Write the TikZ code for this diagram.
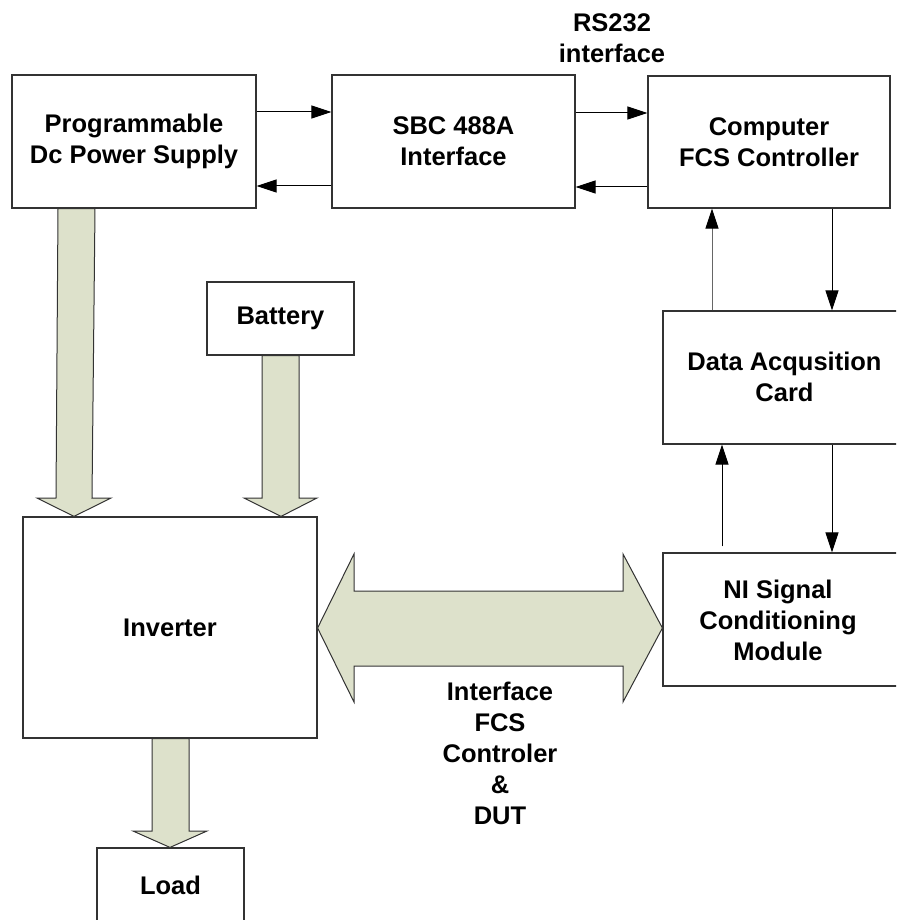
\documentclass[tikz,border=0pt]{standalone}
\usepackage{fontspec}
\setmainfont{Liberation Sans}
\usetikzlibrary{arrows.meta,calc}
\definecolor{fatfill}{HTML}{DDE1CB}
\definecolor{boxline}{HTML}{333333}
\begin{document}
\begin{tikzpicture}[x=1pt,y=-1pt,
  box/.style={draw=boxline,line width=1.2pt,fill=white,inner sep=0pt,align=center,
    font=\fontsize{25.5}{31}\selectfont\bfseries},
  lbl/.style={inner sep=0pt,align=center,font=\fontsize{25.5}{31}\selectfont\bfseries},
  sig/.style={draw=black,line width=1pt,-{Triangle[length=20pt,width=13pt,color=black]}},
  fat/.style={draw=black!80,line width=1pt,fill=fatfill,line join=miter}]
\useasboundingbox (0,0) rectangle (896,920);
\clip (0,0) rectangle (896,920);
% boxes
\node[box,minimum width=244pt,minimum height=133pt] (ps) at (134,141.5) {Programmable\\Dc Power Supply};
\node[box,minimum width=243pt,minimum height=133pt] (sbc) at (453.5,141.5) {SBC 488A\\Interface};
\node[box,minimum width=242pt,minimum height=132pt] (comp) at (769,142) {Computer\\FCS Controller};
\node[box,minimum width=147pt,minimum height=73pt] (bat) at (280.5,318.5) {Battery};
\node[box,minimum width=244pt,minimum height=133pt] (daq) at (785,377.5) {};
\node[lbl] (daqt) at (784.5,377) {Data Acqusition\\Card};
\node[box,minimum width=294pt,minimum height=221pt] (inv) at (170,627.5) {Inverter};
\node[box,minimum width=244pt,minimum height=133pt] (ni) at (785,619.5) {};
\node[lbl] (nit) at (778,620) {NI Signal\\Conditioning\\Module};
\node[box,minimum width=147pt,minimum height=74pt] (load) at (170.5,885) {Load};
% labels
\node[lbl] (rs) at (612,38) {RS232\\interface};
\node[lbl] (ifc) at (500,753) {Interface\\FCS\\Controler\\\&\\DUT};
% fat arrows
\draw[fat] (ps.south-|58,0) -- (56,498) -- (37,498) -- (inv.north-|74,0) -- (111,498) -- (92,498) -- (ps.south-|95,0) -- cycle;
\draw[fat] (bat.south-|262,0) -- (262,498) -- (244,498) -- (inv.north-|281,0) -- (317,498) -- (299,498) -- (bat.south-|299,0) -- cycle;
\draw[fat] (inv.south-|152,0) -- (152,831) -- (133,831) -- (load.north-|170,0) -- (207,831) -- (189,831) -- (inv.south-|189,0) -- cycle;
\draw[fat] (inv.east|-0,628) -- (354,554) -- (354,591) -- (623,591) -- (623,554) -- (ni.west|-0,628) -- (623,702) -- (623,666) -- (354,666) -- (354,702) -- cycle;
% signal arrows
\draw[sig] (ps.east|-0,112) -- (sbc.west|-0,112);
\draw[sig] (sbc.west|-0,186) -- (ps.east|-0,186);
\draw[sig] (sbc.east|-0,113) -- (comp.west|-0,113);
\draw[sig] (comp.west|-0,187) -- (sbc.east|-0,187);
\draw[sig,draw=black!60] (daq.north-|712,0) -- (comp.south-|712,0);
\draw[sig] (comp.south-|832,0) -- (daq.north-|832,0);
\draw[sig] ($(ni.north-|722,0)+(0,-6)$) -- (daq.south-|722,0);
\draw[sig] (daq.south-|832,0) -- (ni.north-|832,0);
\end{tikzpicture}
\end{document}
